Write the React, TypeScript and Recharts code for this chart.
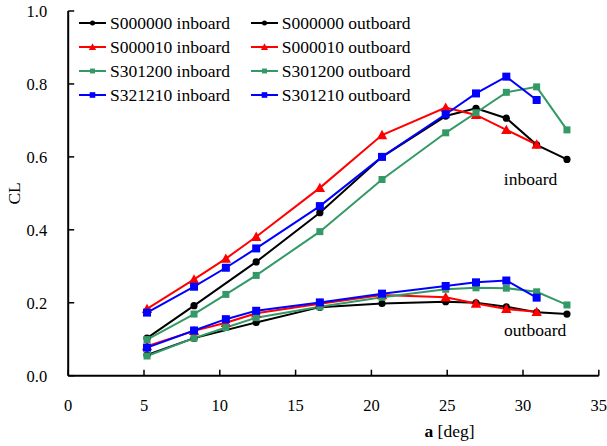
import React from "react";
import { LineChart, Line, XAxis, YAxis, ReferenceDot } from "recharts";

// angle of attack [deg]
const alphaAll = [5.2, 8.3, 10.4, 12.4, 16.6, 20.7, 24.9, 26.9, 28.9, 30.9, 32.9];
const alphaNo10 = [5.2, 8.3, 12.4, 16.6, 20.7, 24.9, 26.9, 28.9, 30.9, 32.9];
const alphaTo31 = [5.2, 8.3, 10.4, 12.4, 16.6, 20.7, 24.9, 26.9, 28.9, 30.9];

const s000000In = [0.103, 0.192, 0.312, 0.447, 0.6, 0.712, 0.733, 0.706, 0.633, 0.593];
const s000000Out = [0.057, 0.103, 0.146, 0.188, 0.198, 0.203, 0.2, 0.189, 0.174, 0.169];
const s000010In = [0.183, 0.264, 0.321, 0.381, 0.515, 0.66, 0.735, 0.715, 0.674, 0.634];
const s000010Out = [0.081, 0.123, 0.145, 0.171, 0.197, 0.221, 0.215, 0.198, 0.183, 0.175];
const s301200In = [0.099, 0.169, 0.223, 0.275, 0.395, 0.538, 0.666, 0.721, 0.777, 0.792, 0.674];
const s301200Out = [0.054, 0.103, 0.132, 0.159, 0.189, 0.215, 0.237, 0.241, 0.24, 0.23, 0.194];
const s321210In = [0.173, 0.244, 0.296, 0.349, 0.465, 0.6, 0.717, 0.774, 0.82, 0.756];
const s301210Out = [0.077, 0.124, 0.155, 0.178, 0.201, 0.225, 0.246, 0.256, 0.261, 0.214];

const xTicks = [0, 5, 10, 15, 20, 25, 30, 35];
const yTicks = [0, 0.2, 0.4, 0.6, 0.8, 1.0];

const FONT = "Liberation Serif";

type Marker = "circle" | "triangle" | "squareSm" | "square";

const toData = (alpha: number[], cl: number[]) => alpha.map((a, i) => ({ a, cl: cl[i] }));

const series = [
  { name: "S000000 inboard", color: "#000000", marker: "circle" as Marker, data: toData(alphaNo10, s000000In) },
  { name: "S000000 outboard", color: "#000000", marker: "circle" as Marker, data: toData(alphaNo10, s000000Out) },
  { name: "S000010 inboard", color: "#ff0000", marker: "triangle" as Marker, data: toData(alphaTo31, s000010In) },
  { name: "S000010 outboard", color: "#ff0000", marker: "triangle" as Marker, data: toData(alphaTo31, s000010Out) },
  { name: "S301200 inboard", color: "#339966", marker: "squareSm" as Marker, data: toData(alphaAll, s301200In) },
  { name: "S301200 outboard", color: "#339966", marker: "squareSm" as Marker, data: toData(alphaAll, s301200Out) },
  { name: "S321210 inboard", color: "#0000ff", marker: "square" as Marker, data: toData(alphaTo31, s321210In) },
  { name: "S301210 outboard", color: "#0000ff", marker: "square" as Marker, data: toData(alphaTo31, s301210Out) },
];

function drawMarker(marker: Marker, cx: number, cy: number, color: string, k: number, key?: string) {
  if (marker === "circle") return <circle key={key} cx={cx} cy={cy} r={3.6 * k} fill={color} />;
  if (marker === "triangle") {
    const s = 5.2 * k;
    return <polygon key={key} points={`${cx},${cy - s} ${cx - s},${cy + s * 0.8} ${cx + s},${cy + s * 0.8}`} fill={color} />;
  }
  const h = (marker === "square" ? 4 : 3.5) * k;
  return <rect key={key} x={cx - h} y={cy - h} width={h * 2} height={h * 2} fill={color} />;
}

function Legend8() {
  const rows = [0, 1, 2, 3];
  return (
    <div style={{ position: "absolute", left: 79, top: 11, fontFamily: FONT, fontSize: 17.5, lineHeight: "24px" }}>
      {rows.map((r) => (
        <div key={r} style={{ display: "flex", height: 24 }}>
          {[0, 1].map((c) => {
            const s = series[r * 2 + c];
            return (
              <div key={c} style={{ display: "flex", alignItems: "center", width: c === 0 ? 171.7 : 180 }}>
                <svg width={27} height={24} style={{ flex: "none" }}>
                  <line x1={0} y1={12} x2={27} y2={12} stroke={s.color} strokeWidth={2} />
                  {drawMarker(s.marker, 13.5, 12, s.color, 0.7)}
                </svg>
                <span style={{ marginLeft: 4, whiteSpace: "nowrap" }}>{s.name}</span>
              </div>
            );
          })}
        </div>
      ))}
    </div>
  );
}

export default function App() {
  return (
    <div style={{ position: "absolute", left: 0, top: 0, width: 607, height: 446, background: "#fff", fontFamily: FONT }}>
      <LineChart width={607} height={446} margin={{ top: 11, right: 8.2, bottom: 0, left: 8.2 }}>
        <XAxis
          type="number"
          dataKey="a"
          domain={[0, 35]}
          ticks={xTicks}
          height={70.3}
          tickSize={-6}
          tickMargin={30}
          axisLine={{ stroke: "#000", strokeWidth: 2 }}
          tickLine={{ stroke: "#000", strokeWidth: 1.5 }}
          tick={{ fill: "#000", fontSize: 16.5, fontFamily: FONT }}
          label={{
            content: ({ viewBox }: any) => (
              <text
                x={viewBox.x + viewBox.width * 0.7186}
                y={viewBox.y + 61}
                textAnchor="middle"
                fontFamily={FONT}
                fontSize={17.5}
                fill="#000"
              >
                <tspan fontWeight="bold">a</tspan> [deg]
              </text>
            ),
          }}
        />
        <YAxis
          type="number"
          domain={[0, 1]}
          ticks={yTicks}
          width={60}
          tickSize={-6}
          tickMargin={27}
          tickFormatter={(v: number) => v.toFixed(1)}
          axisLine={{ stroke: "#000", strokeWidth: 2 }}
          tickLine={{ stroke: "#000", strokeWidth: 1.5 }}
          tick={{ fill: "#000", fontSize: 16.5, fontFamily: FONT }}
          label={{
            content: ({ viewBox }: any) => {
              const x = viewBox.x + 5.5;
              const y = viewBox.y + viewBox.height / 2;
              return (
                <text
                  x={x}
                  y={y}
                  transform={`rotate(-90 ${x} ${y})`}
                  textAnchor="middle"
                  dominantBaseline="central"
                  fontFamily={FONT}
                  fontSize={17.5}
                  fill="#000"
                >
                  CL
                </text>
              );
            },
          }}
        />
        {series.map((s) => (
          <Line
            key={s.name}
            data={s.data}
            dataKey="cl"
            name={s.name}
            type="linear"
            stroke={s.color}
            strokeWidth={2}
            isAnimationActive={false}
            dot={(p: any) => drawMarker(s.marker, p.cx, p.cy, s.color, 1, `${s.name}-${p.index}`)}
            activeDot={false}
          />
        ))}
        <ReferenceDot
          x={30.5}
          y={0.539}
          r={0}
          fill="none"
          stroke="none"
          label={{ value: "inboard", position: "center", fontFamily: FONT, fontSize: 17.5, fill: "#000" }}
        />
        <ReferenceDot
          x={30.8}
          y={0.125}
          r={0}
          fill="none"
          stroke="none"
          label={{ value: "outboard", position: "center", fontFamily: FONT, fontSize: 17.5, fill: "#000" }}
        />
      </LineChart>
      <Legend8 />
    </div>
  );
}
